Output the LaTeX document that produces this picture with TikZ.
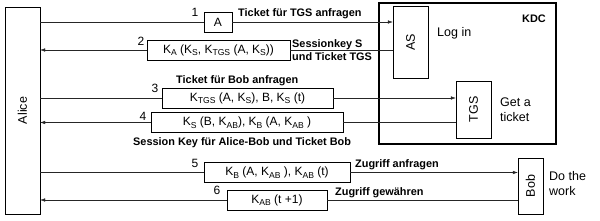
\documentclass[tikz,border=0pt]{standalone}
\usepackage{fontspec}
\setmainfont{Liberation Sans}
\usetikzlibrary{positioning,arrows.meta}
\newcommand{\ind}[1]{\raisebox{-2.4pt}{\fontsize{8.6}{9}\selectfont #1}}
\tikzset{
  kasten/.style={draw=black,thin,fill=white,inner sep=0pt,font=\fontsize{12.5}{15}\selectfont},
  nachricht/.style={kasten,minimum height=20pt,font=\fontsize{12}{14}\selectfont},
  pfeil/.style={-{Latex[length=5pt,width=3.5pt]},draw=black!85,thin},
  linie/.style={draw=black!85,thin},
  hinweis/.style={font=\fontsize{10.9}{13}\selectfont\bfseries,inner sep=0pt,anchor=west,align=left},
  nummer/.style={font=\fontsize{12}{14}\selectfont,inner sep=0pt},
  beschrift/.style={font=\fontsize{12.5}{15}\selectfont,inner sep=0pt,anchor=west,align=left},
}
\begin{document}
\begin{tikzpicture}[x=1pt,y=-1pt]
  \useasboundingbox (0,0) rectangle (600,220);
  % parties
  \node[kasten,minimum width=35pt,minimum height=207pt] (alice) at (22.5,110.5) {\rotatebox{90}{Alice}};
  \node[draw=black,line width=1.6pt,minimum width=177pt,minimum height=141pt,inner sep=0pt] (kdc) at (467.5,73.5) {};
  \node[kasten,minimum width=35pt,minimum height=72pt] (as) at (410.5,42) {\rotatebox{90}{AS}};
  \node[kasten,minimum width=35pt,minimum height=57pt] (tgs) at (473.5,109.5) {\rotatebox{90}{TGS}};
  \node[kasten,minimum width=25pt,minimum height=56pt] (bob) at (530.5,186) {\rotatebox{90}{Bob}};
  \node[hinweis] (kdclabel) at (522,19) {KDC};
  \node[beschrift] (login) at (437,33) {Log in};
  \node[beschrift] (getticket) at (500,110) {Get a\\ticket};
  \node[beschrift] (dowork) at (549,184) {Do the\\work};
  % messages
  \node[nachricht,minimum width=28pt] (m1) at (218,22) {A};
  \node[nachricht,minimum width=143pt] (m2) at (218.5,50) {K\ind{A} (K\ind{S}, K\ind{TGS} (A, K\ind{S}))};
  \node[nachricht,minimum width=171pt] (m3) at (247.5,98) {K\ind{TGS} (A, K\ind{S}), B, K\ind{S} (t)};
  \node[nachricht,minimum width=192pt] (m4) at (247,122.5) {K\ind{S} (B, K\ind{AB}), K\ind{B} (A, K\ind{AB} )};
  \node[nachricht,minimum width=146pt] (m5) at (277,172.5) {K\ind{B} (A, K\ind{AB} ), K\ind{AB} (t)};
  \node[nachricht,minimum width=100pt] (m6) at (277,200) {K\ind{AB} (t +1)};
  \node[nummer] (n1) at (195,12) {1};
  \node[nummer] (n2) at (141,41) {2};
  \node[nummer] (n3) at (155,88) {3};
  \node[nummer] (n4) at (143,116) {4};
  \node[nummer] (n5) at (195,163) {5};
  \node[nummer] (n6) at (217,190) {6};
  % notes
  \node[hinweis] (h1) at (238,14) {Ticket für TGS anfragen};
  \node[hinweis] (h2) at (292,50.5) {Sessionkey S\\und Ticket TGS};
  \node[hinweis] (h3) at (176,81) {Ticket für Bob anfragen};
  \node[hinweis] (h4) at (133,143) {Session Key für Alice-Bob und Ticket Bob};
  \node[hinweis] (h5) at (355,165) {Zugriff anfragen};
  \node[hinweis] (h6) at (335,193) {Zugriff gewähren};
  % connectors
  \draw[linie] (alice.east |- m1.west) -- (m1.west);
  \draw[pfeil] (m1.east) -- (as.west |- m1.east);
  \draw[linie] (as.west |- m2.east) -- (m2.east);
  \draw[pfeil] (m2.west) -- (alice.east |- m2.west);
  \draw[linie] (alice.east |- m3.west) -- (m3.west);
  \draw[pfeil] (m3.east) -- (tgs.west |- m3.east);
  \draw[linie] (tgs.west |- m4.east) -- (m4.east);
  \draw[pfeil] (m4.west) -- (alice.east |- m4.west);
  \draw[linie] (alice.east |- m5.west) -- (m5.west);
  \draw[pfeil] (m5.east) -- (bob.west |- m5.east);
  \draw[linie] (bob.west |- m6.east) -- (m6.east);
  \draw[pfeil] (m6.west) -- (alice.east |- m6.west);
\end{tikzpicture}
\end{document}
